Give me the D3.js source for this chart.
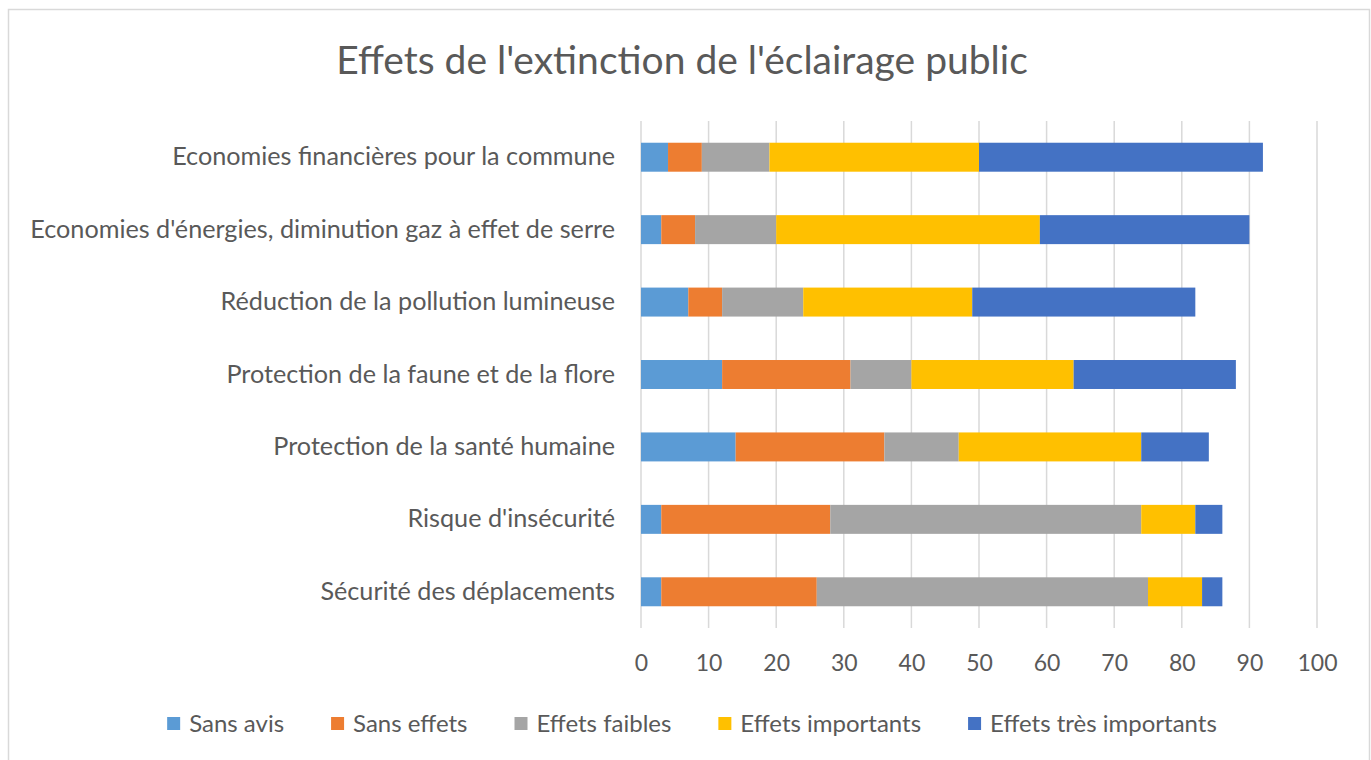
<!DOCTYPE html>
<html>
<head>
<meta charset="utf-8">
<script src="https://cdn.jsdelivr.net/npm/d3@7"></script>
<style>
  html, body { margin: 0; padding: 0; background: #fff; }
  svg { display: block; }
  text { font-family: Lato, "Open Sans", sans-serif; fill: #595959; }
</style>
</head>
<body>
<svg id="chart" width="1371" height="760"></svg>
<script>
const title = "Effets de l'extinction de l'éclairage public";
const categories = [
  "Economies financières pour la commune",
  "Economies d'énergies, diminution gaz à effet de serre",
  "Réduction de la pollution lumineuse",
  "Protection de la faune et de la flore",
  "Protection de la santé humaine",
  "Risque d'insécurité",
  "Sécurité des déplacements"
];
const seriesNames = ["Sans avis", "Sans effets", "Effets faibles", "Effets importants", "Effets très importants"];
const sansAvis        = [4, 3, 7, 12, 14, 3, 3];
const sansEffets      = [5, 5, 5, 19, 22, 25, 23];
const effetsFaibles   = [10, 12, 12, 9, 11, 46, 49];
const effetsImportants= [31, 39, 25, 24, 27, 8, 8];
const effetsTresImp   = [42, 31, 33, 24, 10, 4, 3];
const xTicks = [0, 10, 20, 30, 40, 50, 60, 70, 80, 90, 100];
const colors = ["#5B9BD5", "#ED7D31", "#A5A5A5", "#FFC000", "#4472C4"];

const seriesValues = [sansAvis, sansEffets, effetsFaibles, effetsImportants, effetsTresImp];
const table = categories.map((c, i) => {
  const row = { category: c };
  seriesNames.forEach((s, j) => row[s] = seriesValues[j][i]);
  return row;
});

const svg = d3.select("#chart");

// chart border
svg.append("rect")
  .attr("x", 8.5).attr("y", 9.5)
  .attr("width", 1361).attr("height", 760)
  .attr("fill", "#fff").attr("stroke", "#d9d9d9").attr("stroke-width", 1.5);

const x = d3.scaleLinear().domain([0, 100]).range([641, 1317]);
const y = d3.scaleBand().domain(categories).range([121, 628]).paddingInner(0.6).paddingOuter(0.3);

// gridlines
svg.append("g").selectAll("line").data(xTicks).join("line")
  .attr("x1", d => x(d)).attr("x2", d => x(d))
  .attr("y1", 121).attr("y2", 628)
  .attr("stroke", "#d9d9d9").attr("stroke-width", 1.5);

// stacked bars
const stack = d3.stack().keys(seriesNames)(table);
svg.append("g").selectAll("g").data(stack).join("g")
  .attr("fill", (d, i) => colors[i])
  .selectAll("rect").data(d => d).join("rect")
  .attr("x", d => x(d[0]))
  .attr("width", d => x(d[1]) - x(d[0]))
  .attr("y", d => y(d.data.category))
  .attr("height", y.bandwidth());

// x axis
const xAxis = d3.axisBottom(x).tickValues(xTicks).tickSize(0).tickPadding(0);
const gx = svg.append("g").attr("transform", "translate(0,655)").call(xAxis);
gx.select(".domain").remove();
gx.selectAll("text").attr("font-size", 23).attr("dy", "0.71em")
  .style("font-family", "Lato, 'Open Sans', sans-serif").style("fill", "#595959");

// y axis
const yAxis = d3.axisLeft(y).tickSize(0).tickPadding(0);
const gy = svg.append("g").attr("transform", "translate(615,0)").call(yAxis);
gy.select(".domain").remove();
gy.selectAll("text").attr("font-size", 25.2)
  .style("font-family", "Lato, 'Open Sans', sans-serif").style("fill", "#595959");

// title
svg.append("text")
  .attr("x", 682).attr("y", 74)
  .attr("text-anchor", "middle")
  .attr("font-size", 39)
  .text(title);

// legend
const legend = svg.append("g");
const items = legend.selectAll("g").data(seriesNames).join("g");
items.append("rect").attr("width", 13).attr("height", 13).attr("y", -7)
  .attr("fill", (d, i) => colors[i]);
items.append("text").attr("x", 22).attr("dy", "0.35em").attr("font-size", 24).text(d => d);
const widths = [];
items.each(function() { widths.push(this.getBBox().width); });
const gap = 47;
const total = d3.sum(widths) + gap * (widths.length - 1);
let start = 692 - total / 2;
items.attr("transform", (d, i) => {
  const t = `translate(${start},724)`;
  start += widths[i] + gap;
  return t;
});
</script>
</body>
</html>
